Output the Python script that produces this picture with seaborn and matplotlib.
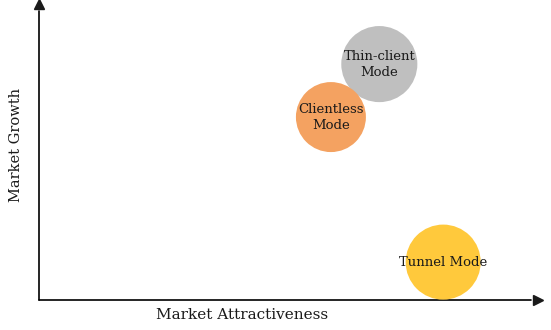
import matplotlib
matplotlib.use("Agg")
import matplotlib.pyplot as plt
import seaborn as sns
import pandas as pd

# ---- data ----
modes = ["Thin-client\nMode", "Clientless\nMode", "Tunnel Mode"]
attractiveness = [68.2, 58.5, 81.0]
growth = [79.7, 61.8, 12.8]
market_size = [3000, 2540, 2920]
colors = ["#BFBFBF", "#F4A261", "#FFC93C"]

df = pd.DataFrame({"mode": modes, "x": attractiveness, "y": growth, "size": market_size})

sns.set_theme(style="white")
plt.rcParams["font.family"] = ["DejaVu Serif"]

fig = plt.figure(figsize=(5.51, 3.30), dpi=100)
ax = fig.add_axes([39/551, 30/330, 499/551, 296/330])
ax.set_xlim(0, 100)
ax.set_ylim(0, 100)

for i, row in df.iterrows():
    sns.scatterplot(x=[row["x"]], y=[row["y"]], s=row["size"], color=colors[i],
                    edgecolor="none", linewidth=0, ax=ax, zorder=2 + i, clip_on=False)
for i, row in df.iterrows():
    ax.text(row["x"], row["y"], row["mode"], ha="center", va="center",
            fontsize=9.5, color="#1a1a1a", linespacing=1.3, zorder=10)

for s in ax.spines.values():
    s.set_visible(False)
ax.set_xticks([])
ax.set_yticks([])
ax.set_xlabel("")
ax.set_ylabel("")

# axis arrows
ax.plot([0, 0.985], [0, 0], color="black", lw=1.2, transform=ax.transAxes, clip_on=False)
ax.plot([0, 0], [0, 0.975], color="black", lw=1.2, transform=ax.transAxes, clip_on=False)
ax.plot(1, 0, ">k", markersize=6.5, transform=ax.transAxes, clip_on=False)
ax.plot(0, 1, "^k", markersize=6.5, transform=ax.transAxes, clip_on=False)

fig.text(242/551, 1 - 315/330, "Market Attractiveness", ha="center", va="center",
         fontsize=11, color="#1a1a1a")
fig.text(16/551, 1 - 145/330, "Market Growth", ha="center", va="center",
         rotation=90, fontsize=10.5, color="#1a1a1a")

fig.savefig("out.png", dpi=100)
